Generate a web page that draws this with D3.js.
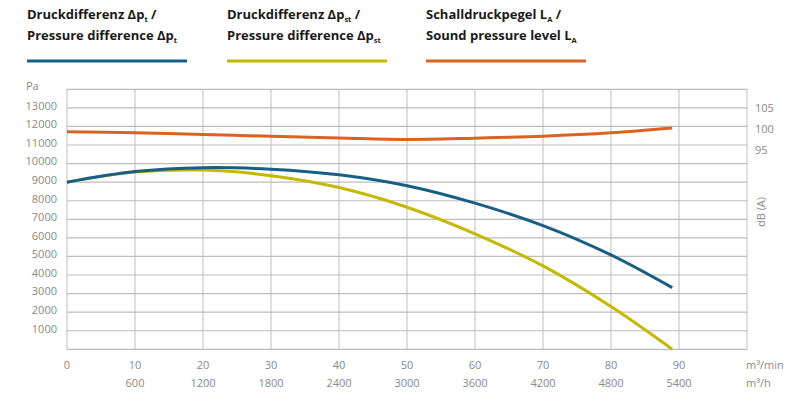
<!DOCTYPE html>
<html>
<head>
<meta charset="utf-8">
<script src="https://cdn.jsdelivr.net/npm/d3@7"></script>
<style>
  body { margin: 0; background: #fff; }
  svg { font-family: "Open Sans", sans-serif; }
  .grid line { stroke: #c8c8c8; stroke-width: 1.2; }
  .tick-label { fill: #8a8a8a; font-size: 11px; }
  .legend-text { fill: #1a1a1a; font-size: 13px; font-weight: 700; }
  .curve { fill: none; stroke-width: 3; stroke-linecap: butt; }
</style>
</head>
<body>
<svg id="chart" width="796" height="400"></svg>
<script>
// flow in m³/min
const flowX = [0, 10, 20, 30, 40, 50, 60, 70, 80, 89];
// total pressure difference Δpt (Pa)
const pressureTotal = [9000, 9570, 9780, 9700, 9400, 8810, 7870, 6660, 5080, 3320];
// static pressure difference Δpst (Pa)
const pressureStatic = [9000, 9540, 9650, 9350, 8710, 7650, 6220, 4490, 2300, 0];
// sound pressure level LA (dB(A))
const soundLevel = [99.3, 99.1, 98.65, 98.25, 97.85, 97.5, 97.8, 98.25, 99.05, 100.2];

const xTicks = [0, 10, 20, 30, 40, 50, 60, 70, 80, 90];
const xTicksHour = [600, 1200, 1800, 2400, 3000, 3600, 4200, 4800, 5400];
const paTicks = [1000, 2000, 3000, 4000, 5000, 6000, 7000, 8000, 9000, 10000, 11000, 12000, 13000];
const dbTicks = [95, 100, 105];

const colors = { total: "#185f87", stat: "#c5b800", sound: "#dc6222" };

const svg = d3.select("#chart");

const x = d3.scaleLinear().domain([0, 100]).range([67, 747]);
const y = d3.scaleLinear().domain([0, 14000]).range([349.3, 89.3]);
const yDb = d3.scaleLinear().domain([95, 105]).range([150, 107.7]);

// grid
const grid = svg.append("g").attr("class", "grid");
grid.selectAll("line.v")
  .data(d3.range(0, 101, 10))
  .enter()
  .append("line")
  .attr("x1", (d) => x(d)).attr("x2", (d) => x(d))
  .attr("y1", y(14000)).attr("y2", y(0));
grid.selectAll("line.h")
  .data(d3.range(0, 14001, 1000))
  .enter()
  .append("line")
  .attr("x1", x(0)).attr("x2", x(100))
  .attr("y1", (d) => y(d)).attr("y2", (d) => y(d))
  .style("stroke", "#bdbdbd");

// left axis labels
svg.append("g")
  .selectAll("text")
  .data(paTicks)
  .enter()
  .append("text")
  .attr("class", "tick-label")
  .attr("x", 57)
  .attr("y", (d) => y(d) - 2)
  .attr("dy", "0.35em")
  .attr("text-anchor", "end")
  .text((d) => d);

svg.append("text")
  .attr("class", "tick-label")
  .attr("x", 26).attr("y", 86).attr("dy", "0.35em")
  .text("Pa");

// right axis labels
svg.append("g")
  .selectAll("text")
  .data(dbTicks)
  .enter()
  .append("text")
  .attr("class", "tick-label")
  .attr("x", 755)
  .attr("y", (d) => yDb(d))
  .attr("dy", "0.35em")
  .text((d) => d);

svg.append("text")
  .attr("class", "tick-label")
  .attr("transform", "translate(765,212) rotate(-90)")
  .attr("text-anchor", "middle")
  .text("dB (A)");

// bottom labels
svg.append("g")
  .selectAll("text")
  .data(xTicks)
  .enter()
  .append("text")
  .attr("class", "tick-label")
  .attr("x", (d) => x(d))
  .attr("y", 369)
  .attr("text-anchor", "middle")
  .text((d) => d);

svg.append("g")
  .selectAll("text")
  .data(xTicksHour)
  .enter()
  .append("text")
  .attr("class", "tick-label")
  .attr("x", (d) => x(d / 60))
  .attr("y", 387)
  .attr("text-anchor", "middle")
  .text((d) => d);

svg.append("text").attr("class", "tick-label").attr("x", 746).attr("y", 369).text("m³/min");
svg.append("text").attr("class", "tick-label").attr("x", 746).attr("y", 387).text("m³/h");

// curves
const line = (ys, scale) => d3.line()
  .x((d, i) => x(flowX[i]))
  .y((d) => scale(d))
  .curve(d3.curveCatmullRom.alpha(0.5))(ys);

svg.append("path").attr("class", "curve").attr("stroke", colors.sound).attr("d", line(soundLevel, yDb));
svg.append("path").attr("class", "curve").attr("stroke", colors.stat).attr("d", line(pressureStatic, y));
svg.append("path").attr("class", "curve").attr("stroke", colors.total).attr("d", line(pressureTotal, y));

// legend
const legend = [
  { x: 27, color: colors.total, l1: ["Druckdifferenz Δp", "t", " /"], l2: ["Pressure difference Δp", "t", ""] },
  { x: 227, color: colors.stat, l1: ["Druckdifferenz Δp", "st", " /"], l2: ["Pressure difference Δp", "st", ""] },
  { x: 426, color: colors.sound, l1: ["Schalldruckpegel L", "A", " /"], l2: ["Sound pressure level L", "A", ""] }
];

const lg = svg.append("g")
  .selectAll("g")
  .data(legend)
  .enter()
  .append("g")
  .attr("transform", (d) => `translate(${d.x},0)`);

[["l1", 19], ["l2", 40]].forEach(([key, yy]) => {
  const t = lg.append("text").attr("class", "legend-text").attr("y", yy);
  t.append("tspan").text((d) => d[key][0]);
  t.append("tspan").attr("dy", 3).style("font-size", "7.5px").text((d) => d[key][1]);
  t.append("tspan").attr("dy", -3).text((d) => d[key][2]);
});

lg.append("line")
  .attr("x1", 0).attr("x2", 160)
  .attr("y1", 61).attr("y2", 61)
  .attr("stroke", (d) => d.color)
  .attr("stroke-width", 3);
</script>
</body>
</html>
